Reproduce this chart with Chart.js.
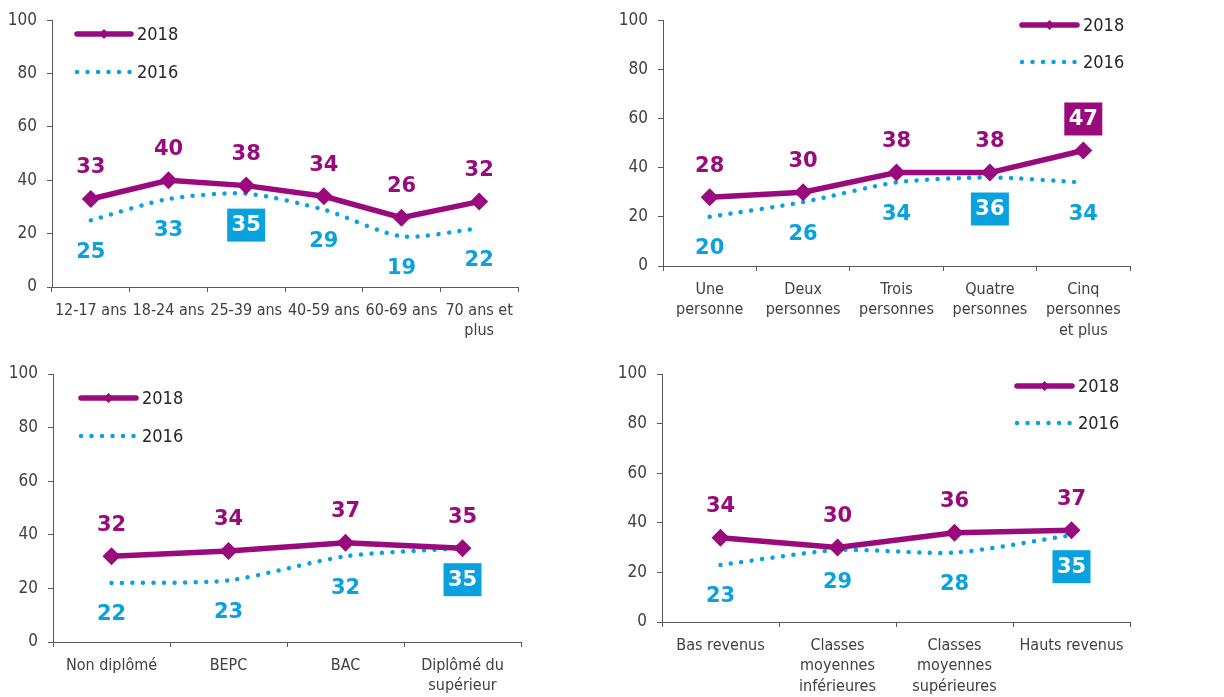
<!DOCTYPE html>
<html>
<head>
<meta charset="utf-8">
<script src="https://cdn.jsdelivr.net/npm/chart.js@4.4.0/dist/chart.umd.min.js"></script>
<style>
  html, body { margin: 0; padding: 0; background: #fff; }
  body { width: 1224px; height: 697px; position: relative; overflow: hidden; }
  .panel { position: absolute; }
  canvas { display: block; }
</style>
</head>
<body>
<div class="panel" style="left:0;top:0"><canvas id="c1" width="612" height="350"></canvas></div>
<div class="panel" style="left:612px;top:0"><canvas id="c2" width="612" height="350"></canvas></div>
<div class="panel" style="left:0;top:350px"><canvas id="c3" width="612" height="347"></canvas></div>
<div class="panel" style="left:612px;top:350px"><canvas id="c4" width="612" height="347"></canvas></div>
<script>
// categories
const agesLabels = [["12-17 ans"], ["18-24 ans"], ["25-39 ans"], ["40-59 ans"], ["60-69 ans"], ["70 ans et", "plus"]];
const foyerLabels = [["Une", "personne"], ["Deux", "personnes"], ["Trois", "personnes"], ["Quatre", "personnes"], ["Cinq", "personnes", "et plus"]];
const diplomeLabels = [["Non diplômé"], ["BEPC"], ["BAC"], ["Diplômé du", "supérieur"]];
const revenuLabels = [["Bas revenus"], ["Classes", "moyennes", "inférieures"], ["Classes", "moyennes", "supérieures"], ["Hauts revenus"]];

// valeurs
const ages2018 = [33, 40, 38, 34, 26, 32];
const ages2016 = [25, 33, 35, 29, 19, 22];
const foyer2018 = [28, 30, 38, 38, 47];
const foyer2016 = [20, 26, 34, 36, 34];
const diplome2018 = [32, 34, 37, 35];
const diplome2016 = [22, 23, 32, 35];
const revenu2018 = [34, 30, 36, 37];
const revenu2016 = [23, 29, 28, 35];

// ticks de l'axe Y
const yTicks = [0, 20, 40, 60, 80, 100];

const violet = "#990a7c";
const bleu = "#0aa2de";
const gris = "#595959";
const police = "'DejaVu Sans Condensed', 'DejaVu Sans', sans-serif";

function creerGraphique(id, labels, v2018, v2016, cfg) {
  // etiquettes de donnees (certaines encadrees)
  const etiquettes = {
    id: "etiquettes",
    afterDatasetsDraw(chart) {
      const ctx = chart.ctx;
      ctx.save();
      ctx.font = "bold 21px 'DejaVu Sans', sans-serif";
      ctx.textAlign = "center";
      ctx.textBaseline = "middle";
      chart.data.datasets.forEach((ds, i) => {
        const meta = chart.getDatasetMeta(i);
        const boites = cfg.boites[i] || [];
        meta.data.forEach((pt, j) => {
          const y = i === 0 ? pt.y - 32 : pt.y + 31;
          const txt = String(ds.data[j]);
          if (boites.includes(j)) {
            ctx.fillStyle = ds.borderColor;
            ctx.fillRect(pt.x - 19, y - 16, 38, 33);
            ctx.fillStyle = "#fff";
          } else {
            ctx.fillStyle = ds.borderColor;
          }
          ctx.fillText(txt, pt.x, y + 1);
        });
      });
      ctx.restore();
    }
  };

  // legende dessinee a la main
  const legende = {
    id: "legendeMaison",
    afterDraw(chart) {
      const ctx = chart.ctx;
      const L = cfg.legende;
      ctx.save();
      chart.data.datasets.forEach((ds, i) => {
        const y = L.y + i * L.dy;
        ctx.strokeStyle = ds.borderColor;
        ctx.lineWidth = ds.borderWidth;
        ctx.lineCap = "round";
        ctx.setLineDash(ds.borderDash || []);
        ctx.beginPath();
        ctx.moveTo(L.x1, y);
        ctx.lineTo(L.x2, y);
        ctx.stroke();
        ctx.setLineDash([]);
        if (i === 0) {
          const cx = (L.x1 + L.x2) / 2;
          ctx.fillStyle = ds.borderColor;
          ctx.beginPath();
          ctx.moveTo(cx, y - 5);
          ctx.lineTo(cx + 5, y);
          ctx.lineTo(cx, y + 5);
          ctx.lineTo(cx - 5, y);
          ctx.closePath();
          ctx.fill();
        }
        ctx.fillStyle = "#262626";
        ctx.font = "18px " + police;
        ctx.textBaseline = "middle";
        ctx.textAlign = "left";
        ctx.fillText(ds.label, L.x2 + 6, y + 1);
      });
      ctx.restore();
    }
  };

  new Chart(document.getElementById(id), {
    type: "line",
    data: {
      labels: labels,
      datasets: [
        {
          label: "2018",
          data: v2018,
          borderColor: violet,
          backgroundColor: violet,
          borderWidth: 5.5,
          pointStyle: "rectRot",
          pointRadius: 9,
          pointHoverRadius: 9,
          pointBorderWidth: 0,
          tension: 0
        },
        {
          label: "2016",
          data: v2016,
          borderColor: bleu,
          backgroundColor: bleu,
          borderWidth: 4.5,
          borderDash: [0.01, 10.5],
          borderCapStyle: "round",
          pointRadius: 0,
          pointHoverRadius: 0,
          tension: 0.25
        }
      ]
    },
    options: {
      responsive: false,
      animation: false,
      events: [],
      layout: { padding: { left: 0, top: cfg.haut, right: cfg.droite, bottom: 0 } },
      plugins: {
        legend: { display: false },
        tooltip: { enabled: false }
      },
      scales: {
        x: {
          offset: true,
          grid: { offset: true, drawOnChartArea: false, tickLength: 5, color: gris },
          border: { color: gris, width: 1 },
          ticks: {
            font: { family: police, size: 16, lineHeight: 1.3 },
            color: "#404040",
            padding: 8,
            maxRotation: 0,
            autoSkip: false
          },
          afterFit(s) { s.height = cfg.hx; }
        },
        y: {
          min: 0,
          max: 100,
          afterBuildTicks(s) { s.ticks = yTicks.map(v => ({ value: v })); },
          grid: { drawOnChartArea: false, tickLength: 5, color: gris },
          border: { color: gris, width: 1 },
          ticks: {
            font: { family: police, size: 17 },
            color: "#404040",
            padding: 10
          },
          afterFit(s) { s.width = cfg.ly; }
        }
      }
    },
    plugins: [etiquettes, legende]
  });
}

creerGraphique("c1", agesLabels, ages2018, ages2016, {
  haut: 19, droite: 94, hx: 63, ly: 52,
  boites: [[], [2]],
  legende: { x1: 77, x2: 131, y: 34, dy: 38 }
});
creerGraphique("c2", foyerLabels, foyer2018, foyer2016, {
  haut: 19, droite: 94, hx: 84, ly: 51,
  boites: [[4], [3]],
  legende: { x1: 410, x2: 465, y: 25, dy: 37 }
});
creerGraphique("c3", diplomeLabels, diplome2018, diplome2016, {
  haut: 24, droite: 91, hx: 55, ly: 53,
  boites: [[], [3]],
  legende: { x1: 81, x2: 136, y: 48, dy: 38 }
});
creerGraphique("c4", revenuLabels, revenu2018, revenu2016, {
  haut: 24, droite: 94, hx: 75, ly: 50,
  boites: [[], [3]],
  legende: { x1: 405, x2: 460, y: 36, dy: 37 }
});
</script>
</body>
</html>
